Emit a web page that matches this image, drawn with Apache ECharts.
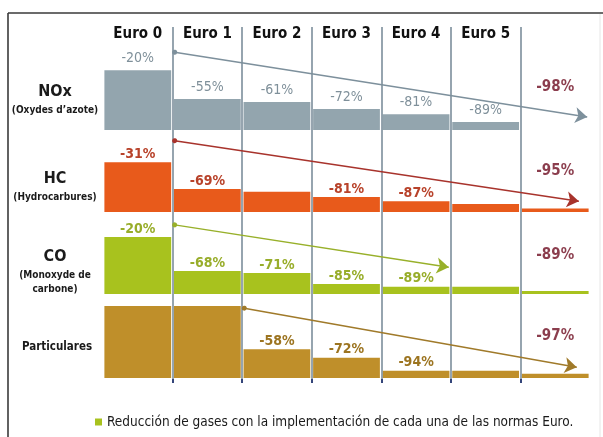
<!DOCTYPE html>
<html><head><meta charset="utf-8">
<script src="https://cdn.jsdelivr.net/npm/echarts@6/dist/echarts.min.js"></script>
<style>html,body{margin:0;padding:0;background:#fff}#c{width:603px;height:437px}</style>
</head><body><div id="c"></div>
<script>
// ---- data ----
const columns = ['Euro 0','Euro 1','Euro 2','Euro 3','Euro 4','Euro 5',''];
const rowNames = ['NOx','HC','CO','Particulares'];
// remaining emission level (% of reference)
const noxValues  = [83, 43, 39, 29, 22, 11, null];
const hcValues   = [69, 32, 28, 21, 15, 11, 5];
const coValues   = [79, 32, 29, 14, 10, 10, 4];
const partValues = [100, 100, 40, 28, 10, 10, 6];
// printed reduction labels
const noxLabels  = ['-20%','-55%','-61%','-72%','-81%','-89%',''];
const hcLabels   = ['-31%','-69%','','-81%','-87%','',''];
const coLabels   = ['-20%','-68%','-71%','-85%','-89%','',''];
const partLabels = ['','','-58%','-72%','-94%','',''];
// total reduction per pollutant
const totalLabels = ['-98%','-95%','-89%','-97%'];
// trend arrows [start, end] in (column, level) units
const noxArrow  = [[1.03,108],[6.96,18]];
const hcArrow   = [[1.03,99],[6.84,15]];
const coArrow   = [[1.03,96],[4.97,37]];
const partArrow = [[2.03,97],[6.81,15]];
const legendText = 'Reducción de gases con la implementación de cada una de las normas Euro.';

// ---- layout ----
const FONT = "'Liberation Sans Narrow','DejaVu Sans Condensed','Roboto',sans-serif";
const L = 103, R = 13, H = 72;
const baselines = [130, 212, 294, 378];
const barColors = ['#93a5ae','#e85a1b','#a8c21e','#bf8f2a'];
const labelColors = ['#7f909a','#b8422a','#98ad2a','#9c7420'];
const arrowColors = ['#7d909c','#a8332c','#98b02a','#a07a2a'];
const values = [noxValues, hcValues, coValues, partValues];
const labels = [noxLabels, hcLabels, coLabels, partLabels];
const arrows = [noxArrow, hcArrow, coArrow, partArrow];
const totalY = [60, 57, 54, 58];

const grid = [], xAxis = [], yAxis = [], series = [];
baselines.forEach((b, i) => {
  grid.push({left: L, right: R, top: b - H, height: H});
  xAxis.push({type:'category', gridIndex:i, data: columns, position:'top',
    axisLine:{show:false}, axisTick:{show:false}, splitLine:{show:false},
    axisLabel: i === 0 ? {show:true, margin:16, fontFamily:FONT, fontWeight:'bold', fontSize:15, color:'#111'} : {show:false}});
  xAxis.push({type:'value', gridIndex:i, min:0, max:7, show:false});
  yAxis.push({type:'value', gridIndex:i, min:0, max:100, show:false});
  series.push({
    type:'bar', name: i === 2 ? legendText : rowNames[i],
    xAxisIndex: 2*i, yAxisIndex: i, data: values[i], barCategoryGap:'4%',
    itemStyle:{color: barColors[i]}, z:2, silent:true,
    label:{show:true, position:'top', distance: i === 0 ? 5 : 1,
      fontFamily:FONT, fontSize:14, fontWeight: i === 0 ? 'normal' : 'bold',
      color: labelColors[i], formatter: p => labels[i][p.dataIndex]}
  });
  series.push({
    type:'lines', coordinateSystem:'cartesian2d', xAxisIndex: 2*i+1, yAxisIndex: i,
    symbol:['circle','arrow'], symbolSize:[5,12], z:5, silent:true, clip:false,
    lineStyle:{color: arrowColors[i], width:1.5, opacity:1},
    data:[{coords: arrows[i]}]
  });
  series.push({
    type:'scatter', xAxisIndex: 2*i+1, yAxisIndex: i, symbolSize:0, silent:true, z:6,
    data:[[6.5, totalY[i]]],
    label:{show:true, position:'inside', formatter: () => totalLabels[i],
      fontFamily:FONT, fontSize:15, fontWeight:'bold', color:'#6e0c20'}
  });
});
// overlay grid for column separators
const colW = (603 - L - R) / 7;
grid.push({left: L + colW, right: 603 - (L + 6*colW), top: 27, bottom: 437 - 383});
xAxis.push({type:'value', gridIndex:4, min:1, max:6, interval:1, z:4,
  axisLine:{show:false}, axisLabel:{show:false},
  axisTick:{show:true, inside:true, length:4, lineStyle:{color:'#34457a', width:2}},
  splitLine:{show:true, lineStyle:{color:'#7c8e9b', width:1.6}}});
yAxis.push({type:'value', gridIndex:4, show:false, min:0, max:1});

const chart = echarts.init(document.getElementById('c'), null, {renderer:'canvas'});
chart.setOption({
  animation:false,
  grid, xAxis, yAxis, series,
  legend:{data:[{name: legendText, icon:'rect'}], left:90, top:410, itemWidth:7, itemHeight:7, itemGap:5,
    selectedMode:false,
    textStyle:{fontFamily:FONT, fontSize:13.5, color:'#1a1a1a'}},
  graphic:[
    {type:'line', shape:{x1:8, y1:13, x2:603, y2:13}, style:{stroke:'#3a3a3a', lineWidth:1.6}},
    {type:'line', shape:{x1:8, y1:13, x2:8, y2:437}, style:{stroke:'#3a3a3a', lineWidth:1.6}},
    {type:'line', shape:{x1:600, y1:14, x2:600, y2:437}, style:{stroke:'#e6e6e6', lineWidth:1}},
    {type:'text', x:55, y:92, style:{text:'NOx', font:"bold 16px "+FONT, fill:'#1a1a1a', textAlign:'center', textVerticalAlign:'middle'}},
    {type:'text', x:55, y:110, style:{text:"(Oxydes d’azote)", font:"bold 10px "+FONT, fill:'#1a1a1a', textAlign:'center', textVerticalAlign:'middle'}},
    {type:'text', x:55, y:179, style:{text:'HC', font:"bold 16px "+FONT, fill:'#1a1a1a', textAlign:'center', textVerticalAlign:'middle'}},
    {type:'text', x:55, y:197, style:{text:'(Hydrocarbures)', font:"bold 10px "+FONT, fill:'#1a1a1a', textAlign:'center', textVerticalAlign:'middle'}},
    {type:'text', x:55, y:257, style:{text:'CO', font:"bold 16px "+FONT, fill:'#1a1a1a', textAlign:'center', textVerticalAlign:'middle'}},
    {type:'text', x:55, y:275, style:{text:'(Monoxyde de', font:"bold 10px "+FONT, fill:'#1a1a1a', textAlign:'center', textVerticalAlign:'middle'}},
    {type:'text', x:55, y:289, style:{text:'carbone)', font:"bold 10px "+FONT, fill:'#1a1a1a', textAlign:'center', textVerticalAlign:'middle'}},
    {type:'text', x:57, y:347, style:{text:'Particulares', font:"bold 11.5px "+FONT, fill:'#1a1a1a', textAlign:'center', textVerticalAlign:'middle'}}
  ]
});
</script></body></html>
